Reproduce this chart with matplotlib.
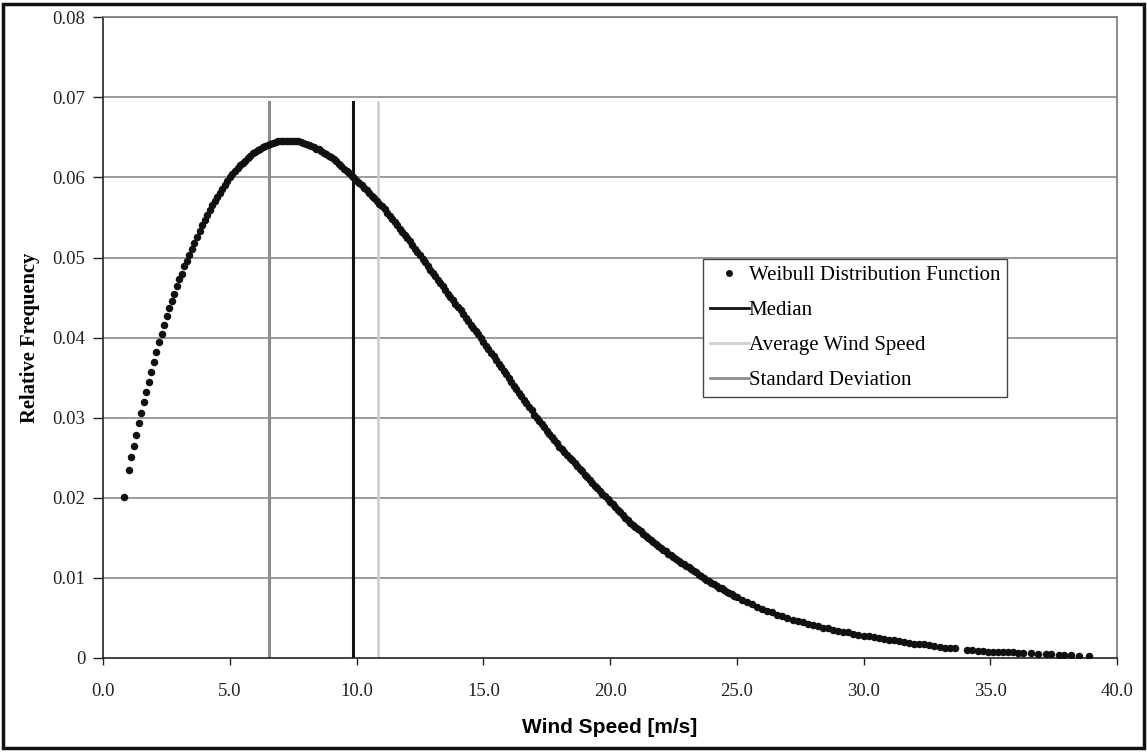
import matplotlib
matplotlib.use("Agg")
import matplotlib.pyplot as plt
from matplotlib.patches import Rectangle
from matplotlib.lines import Line2D

# wind speed bins [m/s] and relative frequency
wind_speed = [
    0.8,
    1.0, 1.1, 1.2, 1.3, 1.4, 1.5, 1.6, 1.7, 1.8, 1.9,
    2.0, 2.1, 2.2, 2.3, 2.4, 2.5, 2.6, 2.7, 2.8, 2.9,
    3.0, 3.1, 3.2, 3.3, 3.4, 3.5, 3.6, 3.7, 3.8, 3.9,
    4.0, 4.1, 4.2, 4.3, 4.4, 4.5, 4.6, 4.7, 4.8, 4.9,
    5.0, 5.1, 5.2, 5.3, 5.4, 5.5, 5.6, 5.7, 5.8, 5.9,
    6.0, 6.1, 6.2, 6.3, 6.4, 6.5, 6.6, 6.7, 6.8, 6.9,
    7.0, 7.1, 7.2, 7.3, 7.4, 7.5, 7.6, 7.7, 7.8, 7.9,
    8.0, 8.1, 8.2, 8.3, 8.4, 8.5, 8.6, 8.7, 8.8, 8.9,
    9.0, 9.1, 9.2, 9.3, 9.4, 9.5, 9.6, 9.7, 9.8, 9.9,
    10.0, 10.1, 10.2, 10.3, 10.4, 10.5, 10.6, 10.7, 10.8, 10.9,
    11.0, 11.1, 11.2, 11.3, 11.4, 11.5, 11.6, 11.7, 11.8, 11.9,
    12.0, 12.1, 12.2, 12.3, 12.4, 12.5, 12.6, 12.7, 12.8, 12.9,
    13.0, 13.1, 13.2, 13.3, 13.4, 13.5, 13.6, 13.7, 13.8, 13.9,
    14.0, 14.1, 14.2, 14.3, 14.4, 14.5, 14.6, 14.7, 14.8, 14.9,
    15.0, 15.1, 15.2, 15.3, 15.4, 15.5, 15.6, 15.7, 15.8, 15.9,
    16.0, 16.1, 16.2, 16.3, 16.4, 16.5, 16.6, 16.7, 16.8, 16.9,
    17.0, 17.1, 17.2, 17.3, 17.4, 17.5, 17.6, 17.7, 17.8, 17.9,
    18.0, 18.1, 18.2, 18.3, 18.4, 18.5, 18.6, 18.7, 18.8, 18.9,
    19.0, 19.1, 19.2, 19.3, 19.4, 19.5, 19.6, 19.7, 19.8, 19.9,
    20.0, 20.1, 20.2, 20.3, 20.4, 20.5, 20.6, 20.7, 20.8, 20.9,
    21.0, 21.1, 21.2, 21.3, 21.4, 21.5, 21.6, 21.7, 21.8, 21.9,
    22.0, 22.1, 22.2, 22.3, 22.4, 22.5, 22.6, 22.7, 22.8, 22.9,
    23.0, 23.1, 23.2, 23.3, 23.4, 23.5, 23.6, 23.7, 23.8, 23.9,
    24.0, 24.1, 24.2, 24.3, 24.4, 24.5, 24.6, 24.7, 24.8, 24.9,
    25.0,
    25.2, 25.4, 25.6, 25.8, 26.0, 26.2, 26.4, 26.6, 26.8, 27.0,
    27.2, 27.4, 27.6, 27.8, 28.0, 28.2, 28.4, 28.6, 28.8, 29.0,
    29.2, 29.4, 29.6, 29.8, 30.0, 30.2, 30.4, 30.6, 30.8, 31.0,
    31.2, 31.4, 31.6, 31.8, 32.0, 32.2, 32.4, 32.6, 32.8, 33.0,
    33.2, 33.4, 33.6,
    34.1, 34.3, 34.5, 34.7, 34.9, 35.1, 35.3, 35.5, 35.7, 35.9,
    36.1, 36.3, 36.6, 36.9, 37.2, 37.4, 37.7, 37.9, 38.2, 38.5,
    38.9,
]
rel_freq = [
    0.0201,
    0.0235, 0.0251, 0.0265, 0.0279, 0.0293, 0.0306, 0.0319, 0.0332, 0.0345, 0.0357,
    0.0370, 0.0382, 0.0394, 0.0405, 0.0416, 0.0427, 0.0437, 0.0446, 0.0455, 0.0464,
    0.0473, 0.0480, 0.0489, 0.0496, 0.0503, 0.0511, 0.0518, 0.0526, 0.0533, 0.0540,
    0.0547, 0.0553, 0.0559, 0.0565, 0.0570, 0.0576, 0.0581, 0.0586, 0.0591, 0.0596,
    0.0600, 0.0604, 0.0608, 0.0612, 0.0615, 0.0618, 0.0621, 0.0624, 0.0627, 0.0630,
    0.0632, 0.0634, 0.0636, 0.0638, 0.0639, 0.0641, 0.0642, 0.0643, 0.0644, 0.0645,
    0.0645, 0.0646, 0.0646, 0.0646, 0.0646, 0.0646, 0.0645, 0.0645, 0.0644, 0.0643,
    0.0642, 0.0641, 0.0639, 0.0638, 0.0636, 0.0635, 0.0633, 0.0631, 0.0629, 0.0627,
    0.0625, 0.0623, 0.0620, 0.0617, 0.0614, 0.0611, 0.0608, 0.0605, 0.0602, 0.0599,
    0.0596, 0.0593, 0.0590, 0.0587, 0.0584, 0.0581, 0.0577, 0.0574, 0.0571, 0.0567,
    0.0564, 0.0560, 0.0556, 0.0552, 0.0548, 0.0544, 0.0540, 0.0536, 0.0532, 0.0528,
    0.0524, 0.0520, 0.0515, 0.0511, 0.0507, 0.0503, 0.0498, 0.0494, 0.0490, 0.0485,
    0.0481, 0.0477, 0.0472, 0.0468, 0.0464, 0.0459, 0.0455, 0.0451, 0.0447, 0.0442,
    0.0438, 0.0434, 0.0429, 0.0425, 0.0421, 0.0416, 0.0412, 0.0408, 0.0404, 0.0399,
    0.0395, 0.0390, 0.0386, 0.0381, 0.0377, 0.0372, 0.0367, 0.0363, 0.0358, 0.0354,
    0.0349, 0.0345, 0.0340, 0.0336, 0.0331, 0.0327, 0.0322, 0.0318, 0.0313, 0.0309,
    0.0304, 0.0300, 0.0296, 0.0292, 0.0288, 0.0284, 0.0280, 0.0276, 0.0272, 0.0268,
    0.0264, 0.0261, 0.0257, 0.0254, 0.0250, 0.0247, 0.0243, 0.0240, 0.0236, 0.0233,
    0.0229, 0.0226, 0.0222, 0.0219, 0.0215, 0.0212, 0.0208, 0.0205, 0.0202, 0.0198,
    0.0195, 0.0192, 0.0188, 0.0185, 0.0182, 0.0179, 0.0175, 0.0172, 0.0169, 0.0166,
    0.0163, 0.0161, 0.0158, 0.0155, 0.0152, 0.0150, 0.0147, 0.0145, 0.0142, 0.0140,
    0.0137, 0.0135, 0.0133, 0.0130, 0.0128, 0.0126, 0.0124, 0.0121, 0.0119, 0.0117,
    0.0115, 0.0113, 0.0111, 0.0109, 0.0107, 0.0104, 0.0102, 0.0100, 0.0098, 0.0096,
    0.0094, 0.0092, 0.0090, 0.0088, 0.0087, 0.0085, 0.0083, 0.0081, 0.0080, 0.0078,
    0.0076,
    0.0073, 0.0070, 0.0067, 0.0064, 0.0061, 0.0059, 0.0057, 0.0054, 0.0052, 0.0050,
    0.0048, 0.0046, 0.0045, 0.0043, 0.0041, 0.0040, 0.0038, 0.0037, 0.0035, 0.0034,
    0.0033, 0.0032, 0.0030, 0.0029, 0.0028, 0.0027, 0.0026, 0.0025, 0.0024, 0.0023,
    0.0022, 0.0021, 0.0020, 0.0019, 0.0018, 0.0017, 0.0017, 0.0016, 0.0015, 0.0014,
    0.0013, 0.0013, 0.0012,
    0.0010, 0.0010, 0.0009, 0.0009, 0.0008, 0.0008, 0.0008, 0.0007, 0.0007, 0.0007,
    0.0006, 0.0006, 0.0006, 0.0005, 0.0005, 0.0005, 0.0004, 0.0004, 0.0004, 0.0003,
    0.0003,
]

median_ws = 9.84
average_ws = 10.85
std_dev_ws = 6.54
vline_top = 0.0694

x_ticks = [0, 5, 10, 15, 20, 25, 30, 35, 40]
x_tick_labels = ["0.0", "5.0", "10.0", "15.0", "20.0", "25.0", "30.0", "35.0", "40.0"]
y_ticks = [0, 0.01, 0.02, 0.03, 0.04, 0.05, 0.06, 0.07, 0.08]
y_tick_labels = ["0", "0.01", "0.02", "0.03", "0.04", "0.05", "0.06", "0.07", "0.08"]

serif = "Liberation Serif"
sans = "Liberation Sans"

fig = plt.figure(figsize=(11.47, 7.52), dpi=100)
ax = fig.add_axes([0.090, 0.125, 0.8838, 0.8521])

for y in y_ticks[1:]:
    ax.axhline(y, color="#8a8a8a", lw=1.2, zorder=0)

ax.plot([std_dev_ws, std_dev_ws], [0, vline_top], color="#8c8c8c", lw=2.2, zorder=1)
ax.plot([median_ws, median_ws], [0, vline_top], color="#111111", lw=2.2, zorder=1)
ax.plot([average_ws, average_ws], [0, vline_top], color="#cfcfcf", lw=1.8, zorder=1)
ax.plot(wind_speed, rel_freq, "o", color="#111111", ms=5.4, mew=0, zorder=3)

ax.set_xlim(0, 40)
ax.set_ylim(0, 0.08)
ax.set_xticks(x_ticks)
ax.set_xticklabels(x_tick_labels, fontfamily=serif, fontsize=13.5)
ax.set_yticks(y_ticks)
ax.set_yticklabels(y_tick_labels, fontfamily=serif, fontsize=13.5)
ax.tick_params(axis="x", direction="out", length=5, width=1, pad=13, colors="#222222")
ax.tick_params(axis="y", direction="out", length=7, width=1, pad=6, colors="#222222")

for s in ["left", "bottom"]:
    ax.spines[s].set_color("#222222")
    ax.spines[s].set_linewidth(1.2)
for s in ["top", "right"]:
    ax.spines[s].set_color("#777777")
    ax.spines[s].set_linewidth(1.2)

ax.set_xlabel("Wind Speed [m/s]", fontfamily=sans, fontweight="bold", fontsize=15)
ax.xaxis.label.set_va("center")
ax.xaxis.set_label_coords(0.5, -0.108)
ax.set_ylabel("Relative Frequency", fontfamily=serif, fontweight="bold", fontsize=14.8)
ax.yaxis.label.set_va("center")
ax.yaxis.set_label_coords(-0.072, 0.5)

handles = [
    Line2D([], [], ls="none", marker="o", color="#111111", ms=5, mew=0),
    Line2D([], [], color="#111111", lw=2),
    Line2D([], [], color="#cfcfcf", lw=2),
    Line2D([], [], color="#8c8c8c", lw=2),
]
labels = ["Weibull Distribution Function", "Median", "Average Wind Speed", "Standard Deviation"]
leg = ax.legend(handles, labels, loc="upper left", bbox_to_anchor=(0.592, 0.623),
                prop={"family": serif, "size": 15}, frameon=True, fancybox=False,
                edgecolor="#444444", framealpha=1, borderpad=0.32, labelspacing=0.74,
                handlelength=1.85, handletextpad=0.0, borderaxespad=0)
leg.get_frame().set_linewidth(1.0)

fig.patches.append(Rectangle((0.003, 0.005), 0.994, 0.99, transform=fig.transFigure,
                             fill=False, edgecolor="#111111", lw=2.5))

fig.savefig("out.png", dpi=100)
